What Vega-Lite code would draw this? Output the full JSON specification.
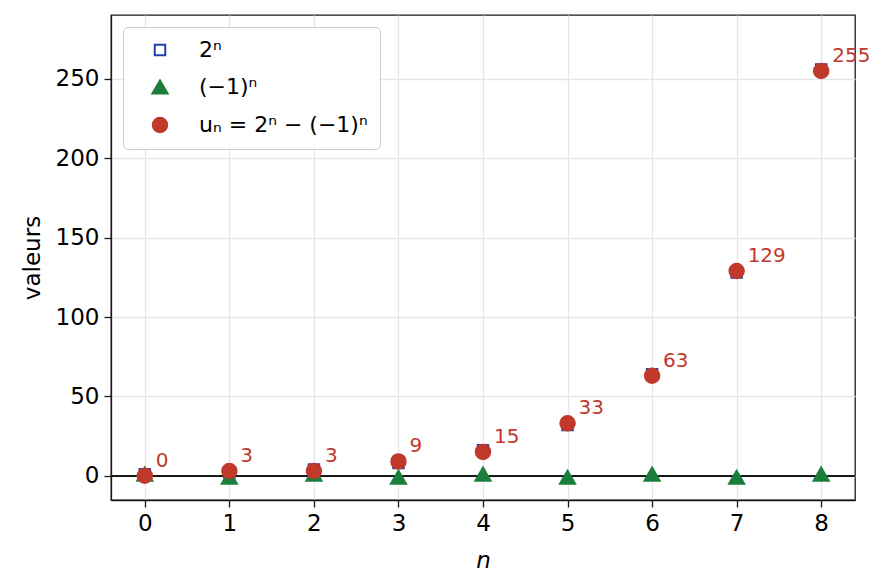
{
  "$schema": "https://vega.github.io/schema/vega-lite/v6.json",
  "width": 744,
  "height": 485,
  "autosize": {"type": "none"},
  "padding": {"left": 111, "top": 15, "right": 30, "bottom": 88},
  "background": "white",
  "config": {
    "font": "DejaVu Sans",
    "view": {"stroke": "#1a1a1a", "strokeWidth": 1.3},
    "axis": {
      "labelFont": "DejaVu Sans",
      "labelFontSize": 23,
      "labelColor": "black",
      "titleFont": "DejaVu Sans",
      "titleFontSize": 23,
      "titleFontWeight": "normal",
      "titleColor": "black",
      "domainColor": "#1a1a1a",
      "domainWidth": 1.3,
      "tickColor": "#1a1a1a",
      "tickWidth": 1.3,
      "tickSize": 7,
      "gridColor": "#e6e6e6",
      "gridWidth": 1.3
    }
  },
  "data": {
    "values": [
      {"n": 0, "serie": "2ⁿ", "valeur": 1},
      {"n": 1, "serie": "2ⁿ", "valeur": 2},
      {"n": 2, "serie": "2ⁿ", "valeur": 4},
      {"n": 3, "serie": "2ⁿ", "valeur": 8},
      {"n": 4, "serie": "2ⁿ", "valeur": 16},
      {"n": 5, "serie": "2ⁿ", "valeur": 32},
      {"n": 6, "serie": "2ⁿ", "valeur": 64},
      {"n": 7, "serie": "2ⁿ", "valeur": 128},
      {"n": 8, "serie": "2ⁿ", "valeur": 256},
      {"n": 0, "serie": "(−1)ⁿ", "valeur": 1},
      {"n": 1, "serie": "(−1)ⁿ", "valeur": -1},
      {"n": 2, "serie": "(−1)ⁿ", "valeur": 1},
      {"n": 3, "serie": "(−1)ⁿ", "valeur": -1},
      {"n": 4, "serie": "(−1)ⁿ", "valeur": 1},
      {"n": 5, "serie": "(−1)ⁿ", "valeur": -1},
      {"n": 6, "serie": "(−1)ⁿ", "valeur": 1},
      {"n": 7, "serie": "(−1)ⁿ", "valeur": -1},
      {"n": 8, "serie": "(−1)ⁿ", "valeur": 1},
      {"n": 0, "serie": "uₙ = 2ⁿ − (−1)ⁿ", "valeur": 0},
      {"n": 1, "serie": "uₙ = 2ⁿ − (−1)ⁿ", "valeur": 3},
      {"n": 2, "serie": "uₙ = 2ⁿ − (−1)ⁿ", "valeur": 3},
      {"n": 3, "serie": "uₙ = 2ⁿ − (−1)ⁿ", "valeur": 9},
      {"n": 4, "serie": "uₙ = 2ⁿ − (−1)ⁿ", "valeur": 15},
      {"n": 5, "serie": "uₙ = 2ⁿ − (−1)ⁿ", "valeur": 33},
      {"n": 6, "serie": "uₙ = 2ⁿ − (−1)ⁿ", "valeur": 63},
      {"n": 7, "serie": "uₙ = 2ⁿ − (−1)ⁿ", "valeur": 129},
      {"n": 8, "serie": "uₙ = 2ⁿ − (−1)ⁿ", "valeur": 255}
    ]
  },
  "encoding": {
    "x": {
      "field": "n", "type": "quantitative",
      "scale": {"domain": [-0.4, 8.4], "nice": false, "zero": false},
      "axis": {"values": [0, 1, 2, 3, 4, 5, 6, 7, 8], "title": "n", "titleFontStyle": "italic", "labelPadding": 5, "titlePadding": 14}
    },
    "y": {
      "field": "valeur", "type": "quantitative",
      "scale": {"domain": [-15.3, 290.3], "nice": false, "zero": false},
      "axis": {"values": [0, 50, 100, 150, 200, 250], "title": "valeurs", "labelPadding": 5, "titlePadding": 11}
    }
  },
  "layer": [
    {
      "mark": {"type": "rule", "color": "#1a1a1a", "strokeWidth": 1.3},
      "encoding": {"y": {"datum": 0}, "x": {"value": 0}, "x2": {"value": 744}}
    },
    {
      "mark": {"type": "point", "strokeWidth": 2, "opacity": 1, "clip": true},
      "encoding": {
        "shape": {
          "field": "serie", "type": "nominal", "title": null,
          "scale": {"domain": ["2ⁿ", "(−1)ⁿ", "uₙ = 2ⁿ − (−1)ⁿ"], "range": ["square", "triangle-up", "circle"]},
          "legend": {
            "orient": "top-left", "offset": 12, "padding": 12,
            "symbolOffset": 14, "labelOffset": 28, "rowPadding": 15,
            "labelFont": "DejaVu Sans", "labelFontSize": 22, "labelColor": "black", "labelLimit": 0,
            "strokeColor": "#cccccc", "cornerRadius": 5, "fillColor": "rgba(255,255,255,0.85)",
            "symbolStrokeWidth": 2
          }
        },
        "fill": {
          "field": "serie", "type": "nominal", "title": null,
          "scale": {"domain": ["2ⁿ", "(−1)ⁿ", "uₙ = 2ⁿ − (−1)ⁿ"], "range": ["white", "#1b7f3b", "#c0392b"]}
        },
        "stroke": {
          "field": "serie", "type": "nominal", "title": null,
          "scale": {"domain": ["2ⁿ", "(−1)ⁿ", "uₙ = 2ⁿ − (−1)ⁿ"], "range": ["#2340b0", "#1b7f3b", "#c0392b"]}
        },
        "size": {
          "field": "serie", "type": "nominal", "title": null,
          "scale": {"type": "ordinal", "domain": ["2ⁿ", "(−1)ⁿ", "uₙ = 2ⁿ − (−1)ⁿ"], "range": [110, 230, 210]}
        }
      }
    },
    {
      "transform": [{"filter": "datum.serie === 'uₙ = 2ⁿ − (−1)ⁿ'"}],
      "mark": {"type": "text", "align": "left", "baseline": "alphabetic", "dx": 11, "dy": -9, "fontSize": 20, "color": "#c0392b", "font": "DejaVu Sans"},
      "encoding": {"text": {"field": "valeur", "type": "quantitative"}}
    }
  ]
}
